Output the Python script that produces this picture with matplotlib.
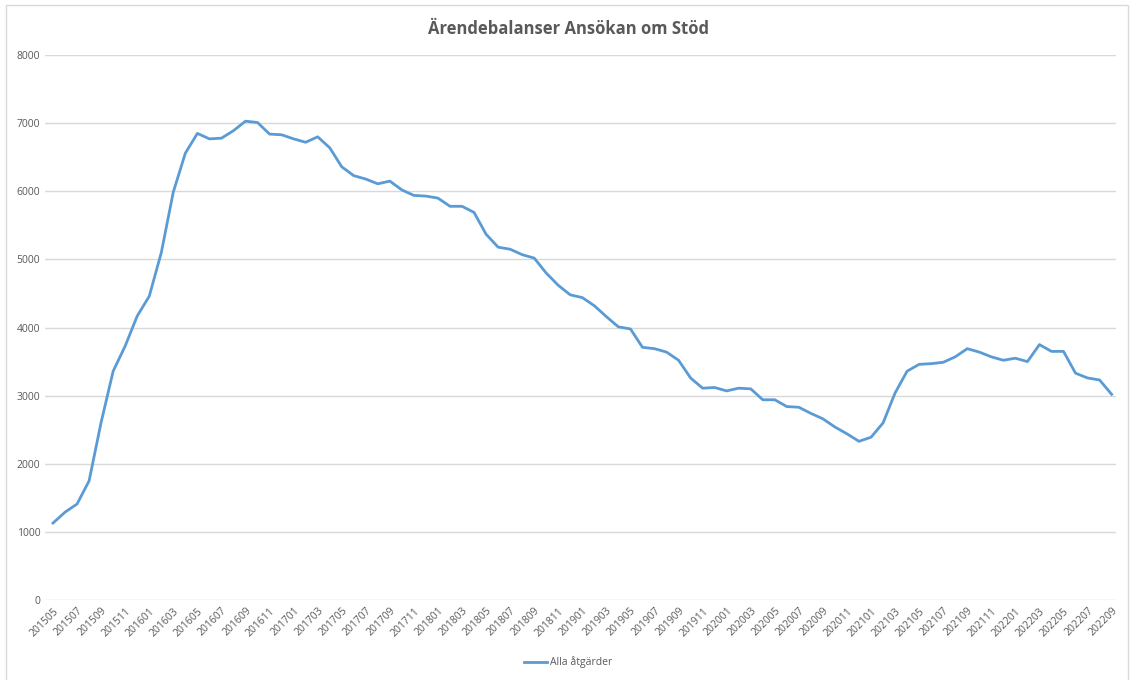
import matplotlib.pyplot as plt
from matplotlib.patches import Rectangle

# ---- Data ----
months = [f"{y}{m:02d}" for y in range(2015, 2023) for m in range(1, 13)]
months = months[months.index("201505"):months.index("202209") + 1]
values = [
    1130, 1290, 1410, 1750, 2610, 3360, 3730, 4170, 4460, 5100,
    5990, 6560, 6850, 6770, 6780, 6890, 7030, 7010, 6840, 6830,
    6770, 6720, 6800, 6640, 6360, 6230, 6180, 6110, 6150, 6020,
    5940, 5930, 5900, 5780, 5780, 5690, 5370, 5180, 5150, 5070,
    5020, 4800, 4620, 4480, 4440, 4320, 4160, 4010, 3980, 3710,
    3690, 3640, 3520, 3260, 3110, 3120, 3070, 3110, 3100, 2940,
    2940, 2840, 2830, 2740, 2660, 2540, 2440, 2330, 2390, 2600,
    3040, 3360, 3460, 3470, 3490, 3570, 3690, 3640, 3570, 3520,
    3550, 3500, 3750, 3650, 3650, 3330, 3260, 3230, 3020,
]
TITLE = "Ärendebalanser Ansökan om Stöd"
SERIES = "Alla åtgärder"

GREY = "#595959"
BLUE = "#5b9bd5"
plt.rcParams["font.family"] = ["Open Sans", "DejaVu Sans"]

fig = plt.figure(figsize=(11.3, 6.8), dpi=100)
ax = fig.add_axes([0.040, 0.1176, 0.948, 0.8014])

x = list(range(len(months)))
ax.plot(x, values, color=BLUE, lw=2.0, label=SERIES, solid_joinstyle="round")

ax.set_ylim(0, 8000)
ax.set_yticks(range(0, 8001, 1000))
ax.set_xlim(-0.65, len(months) - 0.6)
ax.set_xticks(x[::2])
ax.set_xticklabels(months[::2], rotation=45, ha="right", rotation_mode="anchor")
ax.grid(axis="y", color="#d9d9d9", lw=1)
ax.set_axisbelow(True)
for s in ax.spines.values():
    s.set_visible(False)
ax.tick_params(axis="both", length=0, colors=GREY, labelsize=7.5)
ax.tick_params(axis="x", pad=4)

fig.text(0.503, 0.958, TITLE, ha="center", va="center", fontsize=12,
         fontweight="bold", color=GREY)
fig.legend(loc="center", bbox_to_anchor=(0.503, 0.026), frameon=False,
           fontsize=7.5, labelcolor=GREY, handlelength=2.2, handletextpad=0.3)

# light chart-area frame (bottom edge falls outside the picture)
fig.patches.append(Rectangle((0.0053, -0.01), 0.993, 1.003, transform=fig.transFigure,
                             fill=False, edgecolor="#d9d9d9", lw=1))

fig.savefig("out.png", dpi=100)
